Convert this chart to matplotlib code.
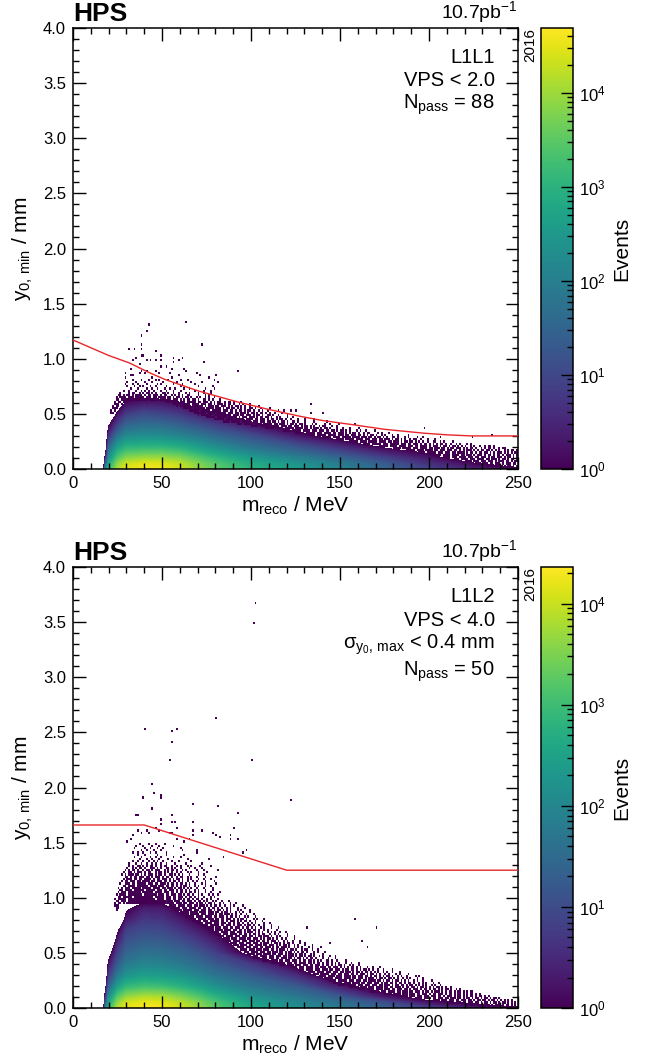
# HPS search-region plots: y0,min vs reco mass for L1L1 and L1L2
import numpy as np
import matplotlib
matplotlib.use("Agg")
from matplotlib import pyplot as plt
from matplotlib.colors import LogNorm
from matplotlib.cm import ScalarMappable
from matplotlib.ticker import LogLocator, MultipleLocator, NullFormatter

plt.rcParams['font.family'] = ['Liberation Sans', 'DejaVu Sans']
plt.rcParams['mathtext.fontset'] = 'custom'
plt.rcParams['mathtext.rm'] = 'Liberation Sans'
plt.rcParams['mathtext.it'] = 'Liberation Sans'
plt.rcParams['mathtext.default'] = 'regular'

W, H = 647, 1063
AX_L, AX_R = 73, 518
CB_L, CB_R = 541, 573

mass_nodes = [16, 17, 18, 20, 25, 30, 40, 50, 60, 70, 80, 100, 125, 150, 175, 200, 225, 250]

y_nodes_l1l1 = [0, .05, .1, .15, .2, .3, .4, .5, .6, .7]
log_counts_l1l1 = [
    [-1, -1, -1, -1, -1, -1, -1, -1, -1, -1],
    [-.2, -1, -1, -1, -1, -1, -1, -1, -1, -1],
    [1.8, 1.0, .2, -.5, -1, -1, -1, -1, -1, -1],
    [3.0, 2.7, 2.3, 1.9, 1.5, .6, -.1, -1, -1, -1],
    [4.1, 3.85, 3.4, 3.0, 2.6, 1.7, .9, .15, -.6, -1],
    [4.5, 4.3, 3.85, 3.4, 3.0, 2.2, 1.5, .8, .1, -.5],
    [4.62, 4.45, 4.0, 3.5, 3.05, 2.3, 1.65, 1.05, .3, -.4],
    [4.6, 4.42, 4.0, 3.5, 3.05, 2.25, 1.6, .95, .25, -.5],
    [4.35, 4.2, 3.8, 3.35, 2.9, 2.1, 1.4, .75, .05, -.8],
    [3.95, 3.8, 3.45, 3.0, 2.6, 1.85, 1.15, .4, -.4, -1],
    [3.55, 3.4, 3.1, 2.7, 2.3, 1.55, .85, .1, -.6, -1],
    [3.0, 2.85, 2.55, 2.15, 1.75, 1.1, .2, -.5, -1, -1],
    [2.6, 2.4, 2.05, 1.6, 1.25, .3, -.4, -1, -1, -1],
    [2.1, 1.9, 1.5, 1.05, .6, -.4, -1, -1, -1, -1],
    [1.5, 1.3, .9, .4, -.1, -1, -1, -1, -1, -1],
    [.9, .6, .25, -.1, -1, -1, -1, -1, -1, -1],
    [.4, .05, -.5, -1, -1, -1, -1, -1, -1, -1],
    [.1, -.3, -1, -1, -1, -1, -1, -1, -1, -1],
]

y_nodes_l1l2 = [0, .05, .1, .2, .3, .4, .5, .6, .7, .8, .9, 1.0]
log_counts_l1l2 = [
    [-1, -1, -1, -1, -1, -1, -1, -1, -1, -1, -1, -1],
    [-.2, -1, -1, -1, -1, -1, -1, -1, -1, -1, -1, -1],
    [1.6, .9, .3, -.5, -1, -1, -1, -1, -1, -1, -1, -1],
    [2.8, 2.5, 2.1, 1.3, .7, .2, -.4, -1, -1, -1, -1, -1],
    [3.85, 3.6, 3.2, 2.4, 1.7, 1.2, .8, .35, -.1, -1, -1, -1],
    [4.22, 4.05, 3.65, 2.85, 2.2, 1.75, 1.4, 1.1, .8, .3, -.1, -.6],
    [4.34, 4.2, 3.85, 3.0, 2.4, 1.95, 1.6, 1.3, 1.0, .7, .35, -.3],
    [4.3, 4.15, 3.8, 2.95, 2.35, 1.9, 1.55, 1.25, .95, .65, .3, -.4],
    [4.05, 3.9, 3.55, 2.75, 2.2, 1.75, 1.4, 1.05, .7, .3, -.15, -.8],
    [3.7, 3.55, 3.2, 2.5, 1.95, 1.5, 1.15, .75, .35, -.1, -.5, -1],
    [3.25, 3.1, 2.8, 2.15, 1.65, 1.2, .8, .35, -.1, -.5, -1, -1],
    [2.6, 2.45, 2.2, 1.65, 1.2, .7, -.3, -.7, -1, -1, -1, -1],
    [2.15, 2.0, 1.75, 1.2, .5, -.3, -1, -1, -1, -1, -1, -1],
    [1.75, 1.55, 1.2, .25, -.8, -1, -1, -1, -1, -1, -1, -1],
    [1.3, 1.0, .25, -.5, -1, -1, -1, -1, -1, -1, -1, -1],
    [.8, .15, -.3, -1, -1, -1, -1, -1, -1, -1, -1, -1],
    [.3, -.1, -.6, -1, -1, -1, -1, -1, -1, -1, -1, -1],
    [.05, -.3, -1, -1, -1, -1, -1, -1, -1, -1, -1, -1],
]

# isolated single-event bins: y row -> masses
sparse_l1l1 = {
    1.33: [63], 1.31: [42], 1.25: [41], 1.21: [38], 1.13: [38, 72], 1.09: [31, 34, 38],
    1.07: [46], 1.03: [38, 39, 49], 1.01: [35, 56, 61], 0.99: [33, 41, 43, 46, 49, 59],
    0.97: [56, 73], 0.95: [37], 0.93: [49, 52], 0.91: [32, 55, 62],
    0.89: [38, 41, 46, 63, 92], 0.87: [29, 37, 40, 48, 54, 69], 0.85: [32, 33, 59, 71, 80],
    0.83: [29, 44, 55, 76], 0.81: [33, 38, 42, 46, 48, 53, 60, 64, 79],
    0.79: [30, 35, 40, 44, 50, 58, 66, 72, 81],
    0.77: [29, 33, 36, 41, 47, 49, 56, 61, 68],
    0.75: [30, 34, 37, 39, 43, 46, 52, 60, 70, 78],
    0.73: [32, 36, 41, 44, 47, 51, 54, 57, 62, 65, 74, 79],
    0.71: [28, 31, 35, 38, 40, 42, 45, 49, 52, 56, 60, 68, 73, 77],
    0.59: [133], 0.53: [122, 125], 0.51: [133, 140], 0.45: [135], 0.43: [142],
    0.41: [149, 158], 0.37: [197], 0.31: [235], 0.29: [196, 206, 224],
}

sparse_l1l2 = {
    3.67: [102], 3.49: [101], 2.63: [80], 2.53: [40, 58], 2.51: [55], 2.41: [55],
    2.25: [54, 100], 2.03: [44], 1.95: [45], 1.93: [49], 1.91: [39, 49], 1.89: [122],
    1.85: [67], 1.83: [81], 1.81: [44], 1.77: [92], 1.75: [35, 36, 55], 1.71: [49],
    1.69: [55, 57, 67], 1.67: [49], 1.63: [46, 58, 90], 1.61: [36, 41, 48, 67, 72],
    1.59: [38, 42, 54, 55, 78], 1.57: [33, 67, 80, 88], 1.55: [82],
    1.53: [32, 58, 65, 88, 92], 1.51: [30, 62], 1.49: [37, 42, 46, 51],
    1.47: [35, 39, 44, 48, 56], 1.45: [34, 40, 43, 47, 50, 60],
    1.43: [38, 41, 45, 49, 61, 69, 97], 1.41: [33, 36, 39, 43, 46, 52, 69, 95],
    1.39: [36, 40, 47, 52, 62], 1.37: [34, 38, 43, 46, 49, 56, 60, 84],
    1.35: [37, 41, 44, 48, 53, 64, 76], 1.33: [33, 36, 39, 42, 45, 47, 50, 55, 59, 66],
    1.31: [31, 35, 38, 41, 44, 46, 49, 52, 57, 63, 72],
    0.81: [158], 0.73: [131, 170], 0.61: [162], 0.59: [144], 0.55: [165],
}

# crowded edge of the dense part: (y row, first mass, occupied bins from there on)
band_l1l1 = [
    (.69, 26, "#....#.##..#.#.##.#.#...##.#..#..#...#.#....#..#...#"),
    (.67, 25, "##.#.##.#.####.#.##.###.#.##..#.#.#.#..##....#...#.#"),
    (.65, 24, "#.####.###.#####.###.##.####.##.#.##.#.##.#..#.#..#.#..#"),
    (.63, 24, "##.###############.#####.###.##.###.#.#.##.##.#..##.#.#...#"),
    (.61, 23, "#.##.#"), (.61, 52, "##.####.###.#####.##.###.#.#.##..#.##.#...#"),
    (.59, 23, "###.#"), (.59, 56, "####.#####.####.###.##.#.###.#.##.#..#.#...#"),
    (.57, 22, "#.##"), (.57, 58, "#.######.######.#.###.##.###.#.#.##.#.#..#....#"),
    (.55, 22, "###"), (.55, 62, "#####.######.####.###.#.##.##.#.#.#..##.#..#....#"),
    (.53, 21, "#.#"), (.53, 65, "######.#####.#####.###.##.#.##.#.##.#..#.#..#.....#..#"),
    (.51, 21, "##"), (.51, 68, "#######.####.#####.###.##.###.#.##.#.##.#.#..#...#"),
    (.49, 70, "#.######.#####.####.###.##.###.#.##.#..##.#..#....#"),
    (.47, 75, "#####.#####.#####.#.###.###.#.##.##.#..#.#...#..#"),
    (.45, 79, "######.####.#####.####.##.###.#.##.#.##.#..#...#...#"),
    (.43, 84, "####.#####.#####.###.###.##.##.#.##.#..##.#...#....#"),
    (.41, 92, "###.#####.####.#####.##.###.#.##.#.##.#...#.#....#..#"),
    (.39, 100, "####.#####.#####.###.##.###.#.##.#.#..#.##...#..#"),
    (.37, 108, "#####.####.#####.####.##.#.###.#.##.#...#..#...#....#"),
    (.35, 118, "####.#####.####.###.###.##.##.#.##.#.#...#.#..#....#"),
    (.33, 125, "#####.#####.###.####.##.###.#.#.##.#..#.##....#.#...#"),
    (.31, 132, "####.#####.#####.###.##.###.##.#.#.##.#..#.#...#..#.....#"),
    (.29, 140, "#####.####.#####.####.###.##.#.##.#.#..##.#...#.#....#"),
    (.27, 148, "####.#####.####.###.###.##.###.#.##.#.#..#.##..#...#...#"),
    (.25, 155, "#####.####.#####.####.##.###.#.##.##.#.#.#..#..##..#.#....#"),
    (.23, 163, "####.#####.###.#####.###.##.###.#.##.#.#.#.##.#..#..#.#...#.#"),
    (.21, 172, "#####.####.####.###.##.####.#.###.#.##.#.##.#.#.#..#.#..#..#.##.#."),
    (.19, 180, "####.#####.###.####.##.###.##.#.##.###.#.#.##.#..#.#.##.#..#.##."),
    (.17, 187, "#####.####.####.##.###.###.##.#.#.###.#.#.##.##.#.#.#..#.#.##.#"),
    (.15, 194, "####.#####.###.###.##.####.#.##.#.##.##.#.#.###.#.#.#.##.#.#"),
    (.13, 202, "#####.####.####.##.###.#.###.#.##.#.##.#.###.#.#.##.#.##"),
    (.11, 208, "####.###.####.###.##.###.#.##.###.#.##.#.###.#.##.#.#.#"),
    (.09, 214, "###.####.###.####.##.###.#.##.#.##.#"),
    (.07, 220, "####.###.###.###.#.###.##.#.##.#"),
    (.05, 226, "###.###.##.###.#.###.##."),
    (.03, 232, "##.###.##.#.##.#.###"),
    (.01, 238, "#.##.##.#.#.#"),
]

band_l1l2 = [
    (1.29, 31, "#.#..##.#.#.##.#..#.##..#..#.#...#.#....#.....#"),
    (1.27, 30, "#..#.#.##.#..###.#.#..##.#.#..#....#..#...#"),
    (1.25, 29, "#.#.##.#..#.##.#.###..#.#.##.#..#.#.....#...#.......#"),
    (1.23, 28, "#..##.#.###.#.##..#.##.#.#.#..#.#...#.#...#....#"),
    (1.21, 27, "#.#.###.##.#.#.###.#.##.#..##.#.#.#...#....#..#"),
    (1.19, 29, "##.#.##.###.##.#.###.#.##.#..#.##..#.#..#....#.....#"),
    (1.17, 28, "#.###.##.##.####.#.##.###.#.#.##.#..#.#...#..#...#"),
    (1.15, 27, "#.##.###.##.####.##.###.##.#.##.#.#..#..#.#....#....#"),
    (1.13, 26, "#..###.##.#####.###.##.###.#.##.#.##.#.#..#...#.#.....#"),
    (1.11, 28, "##.####.######.####.###.##.##.#.#.##.#..#.#...#..#"),
    (1.09, 25, "#.#.###.#####.#####.####.##.###.#.##.#.#.#..#...#....#"),
    (1.07, 26, "##.####.######.#####.###.##.###.#.##.#.#..#.#...#...#"),
    (1.05, 25, "#.###.#######.######.####.###.##.#.##.#.##.#.#...#..#....#"),
    (1.03, 24, "#.####.########.#######.###.##.###.##.#.##.#..#.#...#.#..#"),
    (1.01, 25, "##.#####.###########.#####.###.##.###.#.##.#.#..#...#.#"),
    (.99, 23, "#.#####.###############.####.###.##.##.#.##.#.##.#..#.#...#"),
    (.97, 24, "##.###.######################"), (.97, 52, "####.###.##.###.#.##.#.#..#.#..#...#"),
    (.95, 23, "#.##.#.#######################"), (.95, 52, "#####.###.##.###.#.##.#.##.#..#.#...#..#"),
    (.93, 23, "###"), (.93, 54, "####.####.###.##.###.#.#.##.#..#..#.#....#"),
    (.91, 24, "##"), (.91, 55, "#####.###.####.##.##.#.##.#.#..#.#...#...#"),
    (.89, 24, "#"), (.89, 57, "####.#####.###.###.##.#.##.#.#.#...#.#....#"),
    (.87, 60, "#####.####.####.###.##.#.##.#..#.#.#...#"),
    (.85, 61, "####.#####.###.###.#.##.###.#.#..#..#...#"),
    (.83, 63, "#####.####.####.##.###.#.##.#.#..#.#...#"),
    (.81, 65, "####.#####.###.##.##.###.#.#.##.#...#.#...#"),
    (.79, 67, "#####.###.#####.##.#.###.#.#.##.#..#...#"),
    (.77, 69, "####.####.###.###.##.#.##.#..#.#.#....#..#"),
    (.75, 72, "####.#####.##.###.#.###.#.##.#..#..#...#"),
    (.73, 74, "#####.###.###.##.###.#.##.#.#..#.#...#...#"),
    (.71, 76, "###.####.####.##.##.#.##.##.#..#.#....#"),
    (.69, 78, "####.####.###.###.#.###.#.#.#..#.#.#..#..#"),
    (.67, 79, "####.###.####.##.##.#.##.#.##..#..#.#....#"),
    (.65, 82, "###.####.###.###.##.#.##.###.#..#.#...#...#"),
    (.63, 84, "####.###.####.##.###.#.#.##.#.#..#.#....#"),
    (.61, 86, "###.####.###.###.##.##.#.###.#..#.#..#...#"),
    (.59, 88, "####.###.###.###.#.###.#.##.#.#.##.#...#..#"),
    (.57, 90, "###.####.##.####.##.###.#.#.##.#..#.#...#...#"),
    (.55, 92, "####.###.###.##.###.#.##.###.#..#.#.#...#.#....#"),
    (.53, 94, "####.###.###.###.##.#.###.#.##.#..#.##..#..#"),
    (.51, 96, "###.####.###.##.###.##.#.##.#.#.##.#...#.#...#"),
    (.49, 98, "####.###.####.##.###.#.###.#.##.#..#.#....#"),
    (.47, 101, "###.####.###.###.##.###.#.##.#.##.#..#.#...#..#"),
    (.45, 101, "####.###.###.##.###.##.#.##.#.#.##.#...#..#...#"),
    (.43, 106, "####.####.##.###.###.#.##.##.#.#.#..##.#..#....#"),
    (.41, 111, "####.###.###.##.####.##.#.##.#.##.#.#.#...#..#...#"),
    (.39, 116, "###.####.###.###.##.###.#.##.#.#.##.#..#.#..#"),
    (.37, 122, "####.###.####.##.###.##.###.#.#.#.##.#.#...#..#...#"),
    (.35, 127, "###.####.###.###.##.###.#.##.##.#.#.##.#.#..#..#....#"),
    (.33, 132, "####.####.###.###.##.###.#.##.#.##.#.#.#..#.#..#...#"),
    (.31, 135, "###.#####.###.##.###.##.#.###.#.##.#.#..#.#...#.#....#"),
    (.29, 138, "####.####.###.####.##.###.##.#.##.#.#.##.#..#.#..#....#.#"),
    (.27, 141, "#####.####.####.##.###.#.###.#.##.#.##.#.#..#.#.#...#..#"),
    (.25, 144, "####.#####.###.###.##.####.##.#.##.#.##.#.#.#..#.#..#....#"),
    (.23, 146, "#####.####.####.##.###.###.#.##.##.#.##.#.##.#..#.#.#...#..#"),
    (.21, 149, "####.#####.###.###.###.##.###.#.##.##.#.##.#.#.#.#..#.#..#"),
    (.19, 155, "#####.####.###.####.##.##.###.#.##.##.#.##.#.#.#.##.#.#..#"),
    (.17, 160, "####.####.####.###.##.###.##.#.###.#.##.#.##.#.#.##.#..#.#"),
    (.15, 167, "#####.###.####.##.###.##.###.#.##.#.###.#.#.##.#.##.#.#.##"),
    (.13, 175, "####.####.###.###.##.###.#.##.###.#.##.#.##.#.#.##.#.#"),
    (.11, 183, "#####.###.###.###.###.##.#.###.#.##.#.#.##.#.##.#.#"),
    (.09, 192, "####.####.##.###.##.###.##.#.##.#.##.#.##.#.##.#"),
    (.07, 202, "####.###.###.##.###.##.#.##.##.#.##.#.#.#.#.#"),
    (.05, 211, "###.###.##.###.##.#.##.#.##.#.##.#.#.#"),
    (.03, 220, "##.###.##.#.##.#.###.#.##.#.#"),
    (.01, 228, "#.##.#.##.##.#.##.#.##"),
]

# cut lines
cut_m_l1l1 = [0, 10, 20, 32, 42, 52, 70, 92, 110, 127, 140, 158, 175, 197, 210, 224, 235, 250]
cut_y_l1l1 = [1.17, 1.10, 1.03, .96, .88, .81, .71, .61, .54, .48, .44, .40, .36, .325, .31, .30, .30, .30]
cut_m_l1l2 = [0, 40, 120, 250]
cut_y_l1l2 = [1.66, 1.66, 1.25, 1.25]

vmax_l1l1 = 4.9e4
vmax_l1l2 = 2.3e4

labels_l1l1 = ['L1L1', 'VPS < 2.0', r'$N_{pass}$ = 88']
labels_l1l2 = ['L1L2', 'VPS < 4.0', r'$\sigma_{y_0,\,max}$ < 0.4 mm', r'$N_{pass}$ = 50']
label_y_l1l1 = [.934, .88, .825]
label_y_l1l2 = [.932, .878, .823, .762]

x_edges = np.arange(0, 251, 1)
y_edges = np.arange(0, 4.001, 0.02)


def style_axis(ax):
    ax.tick_params(which='both', direction='in', top=True, right=True, width=1.0, labelsize=12, pad=5)
    ax.tick_params(which='major', length=9)
    ax.tick_params(which='minor', length=4.5)
    for s in ax.spines.values():
        s.set_linewidth(1.1)


def draw_panel(fig, top_px, log_counts, y_nodes, sparse, band, cut_m, cut_y, vmax, labels, label_y):
    bottom = 1 - (top_px + 441) / H
    ax = fig.add_axes([AX_L / W, bottom, (AX_R - AX_L) / W, 441 / H])
    cax = fig.add_axes([CB_L / W, bottom, (CB_R - CB_L) / W, 441 / H])
    norm = LogNorm(1, vmax)

    # dense part
    z = np.array(log_counts).T
    ax.contourf(mass_nodes, y_nodes, z, levels=np.linspace(0, np.log10(vmax), 140),
                cmap='viridis', antialiased=False)

    # single-event bins
    m_cells = []
    y_cells = []
    for y, row in sparse.items():
        m_cells += row
        y_cells += [y] * len(row)
    for y, start, pattern in band:
        hits = [start + i for i, c in enumerate(pattern) if c == '#']
        m_cells += hits
        y_cells += [y] * len(hits)
    h, _, _ = np.histogram2d(m_cells, y_cells, bins=[x_edges, y_edges])
    ax.pcolormesh(x_edges, y_edges, np.ma.masked_equal(h.T, 0), norm=norm, cmap='viridis',
                  zorder=1, antialiased=True, linewidth=0)

    ax.plot(cut_m, cut_y, color='#e8262a', lw=1.0, zorder=3)

    ax.set_xlim(0, 250)
    ax.set_ylim(0, 4)
    ax.xaxis.set_major_locator(MultipleLocator(50))
    ax.xaxis.set_minor_locator(MultipleLocator(10))
    ax.yaxis.set_major_locator(MultipleLocator(0.5))
    ax.yaxis.set_minor_locator(MultipleLocator(0.1))
    ax.set_xlabel(r'$m_{reco}$ / MeV', fontsize=15, labelpad=3)
    ax.set_ylabel(r'$y_{0,\,min}$ / mm', fontsize=15, labelpad=6)
    style_axis(ax)

    ax.text(0, 1.005, 'HPS', transform=ax.transAxes, fontsize=19, fontweight='bold', ha='left', va='bottom')
    ax.text(1, 1.006, r'10.7pb$^{-1}$', transform=ax.transAxes, fontsize=14, ha='right', va='bottom')
    ax.text(1.028, 1.0, '2016', transform=ax.transAxes, fontsize=11, rotation=90, ha='center', va='top')
    for txt, y in zip(labels, label_y):
        ax.text(.948, y, txt, transform=ax.transAxes, fontsize=14.5, ha='right', va='center')

    cb = fig.colorbar(ScalarMappable(norm=norm, cmap='viridis'), cax=cax)
    cb.ax.yaxis.set_major_locator(LogLocator(10))
    cb.ax.yaxis.set_minor_locator(LogLocator(10, subs=np.arange(2, 10)))
    cb.ax.yaxis.set_minor_formatter(NullFormatter())
    cb.ax.tick_params(which='both', direction='in', right=True, width=1.0, labelsize=12, pad=4)
    cb.ax.tick_params(which='major', length=9)
    cb.ax.tick_params(which='minor', length=4.5)
    cb.outline.set_linewidth(1.1)
    cb.set_label('Events', fontsize=15, labelpad=5)


fig = plt.figure(figsize=(W / 100, H / 100), dpi=100)
draw_panel(fig, 28, log_counts_l1l1, y_nodes_l1l1, sparse_l1l1, band_l1l1, cut_m_l1l1, cut_y_l1l1,
           vmax_l1l1, labels_l1l1, label_y_l1l1)
draw_panel(fig, 567, log_counts_l1l2, y_nodes_l1l2, sparse_l1l2, band_l1l2, cut_m_l1l2, cut_y_l1l2,
           vmax_l1l2, labels_l1l2, label_y_l1l2)
fig.savefig('out.png', dpi=100)
